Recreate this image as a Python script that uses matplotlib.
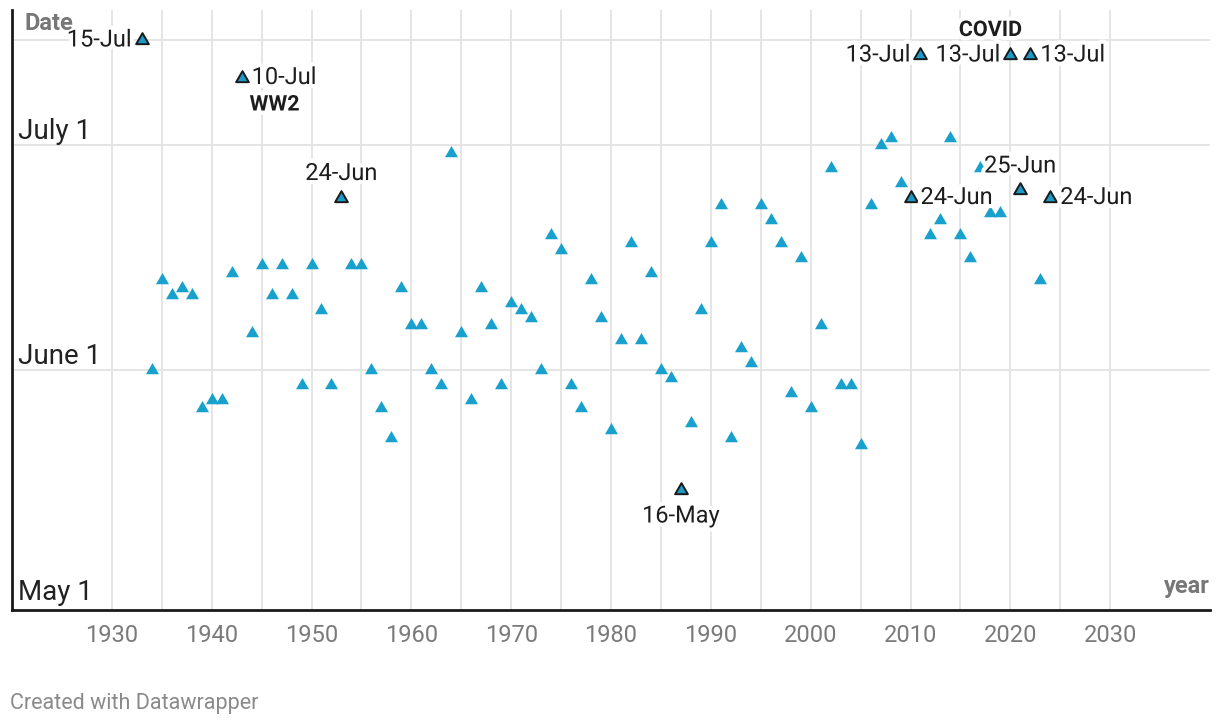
import matplotlib
matplotlib.use("Agg")
import matplotlib.pyplot as plt
import matplotlib.patheffects as pe
from matplotlib.transforms import offset_copy
from matplotlib.path import Path
import pandas as pd

# ---------------- data ----------------
years = list(range(1933, 2025))
dates = [
    "07-15", "06-01", "06-13", "06-11", "06-12", "06-11", "05-27", "05-28", "05-28", "06-14",  # 1933-1942
    "07-10", "06-06", "06-15", "06-11", "06-15", "06-11", "05-30", "06-15", "06-09", "05-30",  # 1943-1952
    "06-24", "06-15", "06-15", "06-01", "05-27", "05-23", "06-12", "06-07", "06-07", "06-01",  # 1953-1962
    "05-30", "06-30", "06-06", "05-28", "06-12", "06-07", "05-30", "06-10", "06-09", "06-08",  # 1963-1972
    "06-01", "06-19", "06-17", "05-30", "05-27", "06-13", "06-08", "05-24", "06-05", "06-18",  # 1973-1982
    "06-05", "06-14", "06-01", "05-31", "05-16", "05-25", "06-09", "06-18", "06-23", "05-23",  # 1983-1992
    "06-04", "06-02", "06-23", "06-21", "06-18", "05-29", "06-16", "05-27", "06-07", "06-28",  # 1993-2002
    "05-30", "05-30", "05-22", "06-23", "07-01", "07-02", "06-26", "06-24", "07-13", "06-19",  # 2003-2012
    "06-21", "07-02", "06-19", "06-16", "06-28", "06-22", "06-22", "07-13", "06-25", "07-13",  # 2013-2022
    "06-13", "06-24",                                                                          # 2023-2024
]
highlight_years = [1933, 1943, 1953, 1987, 2010, 2011, 2020, 2021, 2022, 2024]
label_side = {1933: "left", 1943: "right", 1953: "above", 1987: "below", 2010: "right",
              2011: "left", 2020: "left", 2021: "above", 2022: "right", 2024: "right"}
notes = [("WW2", 1943), ("COVID", 2020)]
ytick_dates = ["05-01", "06-01", "07-01"]
ytick_labels = ["May 1", "June 1", "July 1"]
ygrid_dates = ["06-01", "07-01", "07-15"]
xticks = list(range(1930, 2031, 10))
xgrid = list(range(1930, 2031, 5))


def doy(md):
    return pd.Timestamp("2001-" + md).dayofyear


def label_of(md):
    t = pd.Timestamp("2001-" + md)
    return f"{t.day}-{t.strftime('%b')}"


df = pd.DataFrame({"year": years, "date": dates})
df["doy"] = df["date"].map(doy)
df["hl"] = df["year"].isin(highlight_years)

# ---------------- style ----------------
plt.rcParams["font.family"] = ["Roboto", "DejaVu Sans"]
W, H = 1220, 726
fig = plt.figure(figsize=(W / 100, H / 100), dpi=100)
L, R, T, B = 12, 1210, 10, 610
ax = fig.add_axes([L / W, 1 - B / H, (R - L) / W, (B - T) / H])
ax.set_xlim(1920, 2040)
ax.set_ylim(120, 200)
for s in ["top", "right"]:
    ax.spines[s].set_visible(False)
for s in ["left", "bottom"]:
    ax.spines[s].set_color("#1a1a1a")
    ax.spines[s].set_linewidth(2)
    ax.spines[s].set_zorder(5)
ax.set_xticks([])
ax.set_yticks([])

grid_c = "#e3e3e3"
for x in xgrid:
    ax.axvline(x, color=grid_c, lw=1.3, zorder=0)
for d in ygrid_dates:
    ax.axhline(doy(d), color=grid_c, lw=1.3, zorder=0)

# triangle centred on its centroid (like d3.symbolTriangle)
tri = Path([(0, 1), (-0.866, -0.5), (0.866, -0.5), (0, 1)],
           [Path.MOVETO, Path.LINETO, Path.LINETO, Path.CLOSEPOLY])

blue = "#18a1cd"
reg = df[~df["hl"]]
hl = df[df["hl"]]
ax.scatter(reg["year"], reg["doy"], marker=tri, s=10.8 ** 2, color=blue, linewidths=0, zorder=3)
ax.scatter(hl["year"], hl["doy"], marker=tri, s=10.6 ** 2, color="#1b9ac6",
           edgecolors="#1a1a1a", linewidths=1.4, zorder=4)

halo = [pe.withStroke(linewidth=6, foreground="white")]
px = 0.72  # points per pixel
for _, r in hl.iterrows():
    side = label_side[int(r["year"])]
    if side == "left":
        off, ha, va = (-10 * px, 0), "right", "center"
    elif side == "right":
        off, ha, va = (10 * px, 0), "left", "center"
    elif side == "above":
        off, ha, va = (0, 24 * px), "center", "center"
    else:
        off, ha, va = (0, -26 * px), "center", "center"
    ax.annotate(label_of(r["date"]), (r["year"], r["doy"]), xytext=off,
                textcoords="offset points", ha=ha, va=va, fontsize=17,
                color="#1d1d1d", path_effects=halo, zorder=6)

note_off = {"WW2": (33 * px, -27 * px), "COVID": (-20 * px, 25 * px)}
for txt, yr in notes:
    r = df[df["year"] == yr].iloc[0]
    ax.annotate(txt, (yr, r["doy"]), xytext=note_off[txt], textcoords="offset points",
                ha="center", va="center", fontsize=15.5, fontweight="bold",
                color="#1d1d1d", path_effects=halo, zorder=6)

# y tick labels drawn inside the plot
ytick_off = [2.5, 6, 6]
for d, lab, o in zip(ytick_dates, ytick_labels, ytick_off):
    tr = offset_copy(ax.get_yaxis_transform(), fig=fig, x=6 * px, y=o * px, units="points")
    ax.text(0, doy(d), lab, transform=tr, ha="left", va="baseline",
            fontsize=20, color="#222222", zorder=6)

# x tick labels
for x in xticks:
    tr = offset_copy(ax.get_xaxis_transform(), fig=fig, x=0, y=-26 * px, units="points")
    ax.text(x, 0, str(x), transform=tr, ha="center", va="center",
            fontsize=17, color="#7a7a7a")

fig.text(24 / W, 1 - 24 / H, "Date", ha="left", va="center", fontsize=17,
         fontweight="bold", color="#777777", zorder=1)
fig.text(1210 / W, 1 - 586 / H, "year", ha="right", va="center", fontsize=17,
         fontweight="bold", color="#777777")
fig.text(10 / W, 1 - 703 / H, "Created with Datawrapper", ha="left", va="center",
         fontsize=15.5, color="#8a8a8a")

fig.savefig("out.png", dpi=100)
